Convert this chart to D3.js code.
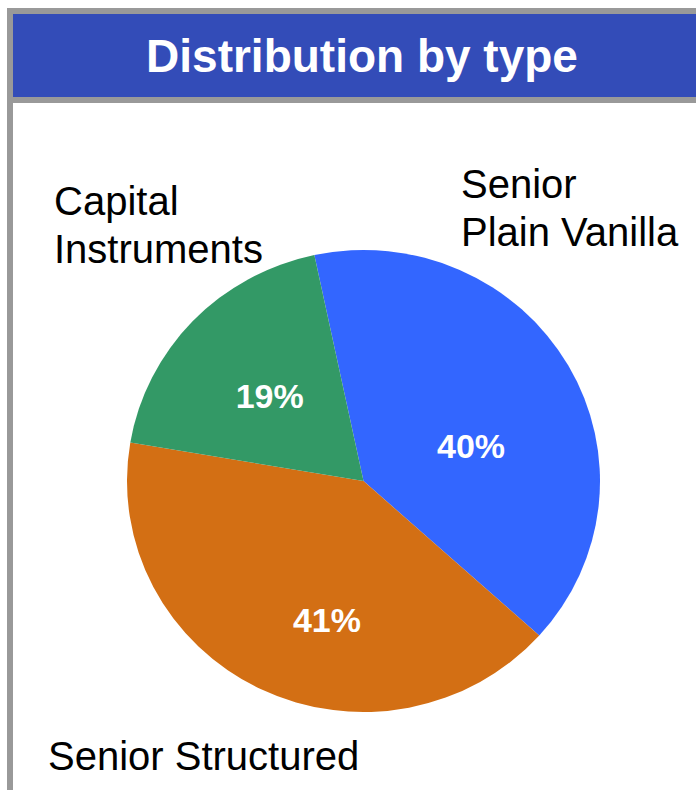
<!DOCTYPE html>
<html>
<head>
<meta charset="utf-8">
<script src="https://cdn.jsdelivr.net/npm/d3@7"></script>
<style>
  body { margin: 0; background: #fff; }
  svg { display: block; font-family: "Liberation Sans", Arial, sans-serif; }
</style>
</head>
<body>
<div id="chart"></div>
<script>
// chart data
var categories = ["Senior Plain Vanilla", "Senior Structured", "Capital Instruments"];
var shares = [40, 41, 19];
var pctLabels = ["40%", "41%", "19%"];
var sliceColors = ["#3366FF", "#D36F14", "#339966"];

(function () {
  var width = 696, height = 790;
  var cx = 363.5, cy = 481, r = 236.5, ry = 231;

  var svg = d3.select("#chart")
    .append("svg")
      .attr("width", width)
      .attr("height", height);

  // frame + title bar
  svg.append("rect").attr("x", 7).attr("y", 8).attr("width", width - 7).attr("height", 6).attr("fill", "#999999");
  svg.append("rect").attr("x", 7).attr("y", 8).attr("width", 6).attr("height", height - 8).attr("fill", "#999999");
  svg.append("rect").attr("x", 13).attr("y", 14).attr("width", width - 13).attr("height", 83).attr("fill", "#334CB8");
  svg.append("rect").attr("x", 7).attr("y", 97).attr("width", width - 7).attr("height", 6).attr("fill", "#999999");

  svg.append("text")
    .attr("x", 362)
    .attr("y", 72)
    .attr("text-anchor", "middle")
    .attr("fill", "#fff")
    .style("font-size", "46px")
    .style("font-weight", "bold")
    .text("Distribution by type");

  // pie
  var start = -12 * Math.PI / 180;
  var pie = d3.pie().sort(null).value(function (d) { return d; })
    .startAngle(start).endAngle(start + 2 * Math.PI);
  var arcs = pie(shares);
  var arc = d3.arc().innerRadius(0).outerRadius(r);

  var g = svg.append("g")
    .attr("transform", "translate(" + cx + "," + cy + ") scale(1," + (ry / r) + ")");

  g.selectAll("path")
    .data(arcs)
    .join("path")
      .attr("d", arc)
      .attr("fill", function (d, i) { return sliceColors[i]; });

  // percent labels (centroid plus a little nudge like the original)
  var labelArc = d3.arc().innerRadius(130).outerRadius(130);
  var nudge = [[-5, 30], [20, 22], [0, 5]];
  svg.append("g")
    .attr("transform", "translate(" + cx + "," + cy + ")")
    .selectAll("text")
    .data(arcs)
    .join("text")
      .attr("x", function (d, i) { return labelArc.centroid(d)[0] + nudge[i][0]; })
      .attr("y", function (d, i) { return labelArc.centroid(d)[1] + nudge[i][1]; })
      .attr("dy", "0.35em")
      .attr("text-anchor", "middle")
      .attr("fill", "#fff")
      .style("font-size", "34px")
      .style("font-weight", "bold")
      .text(function (d, i) { return pctLabels[i]; });

  // category labels
  var catLabels = [
    { lines: ["Senior", "Plain Vanilla"], x: 461, y: 198 },
    { lines: ["Senior Structured"], x: 48, y: 770 },
    { lines: ["Capital", "Instruments"], x: 54, y: 215 }
  ];
  catLabels.forEach(function (c) {
    var t = svg.append("text")
      .attr("x", c.x)
      .attr("y", c.y)
      .attr("fill", "#000")
      .style("font-size", "40px");
    c.lines.forEach(function (line, k) {
      t.append("tspan")
        .attr("x", c.x)
        .attr("dy", k === 0 ? 0 : 48)
        .text(line);
    });
  });
})();
</script>
</body>
</html>
